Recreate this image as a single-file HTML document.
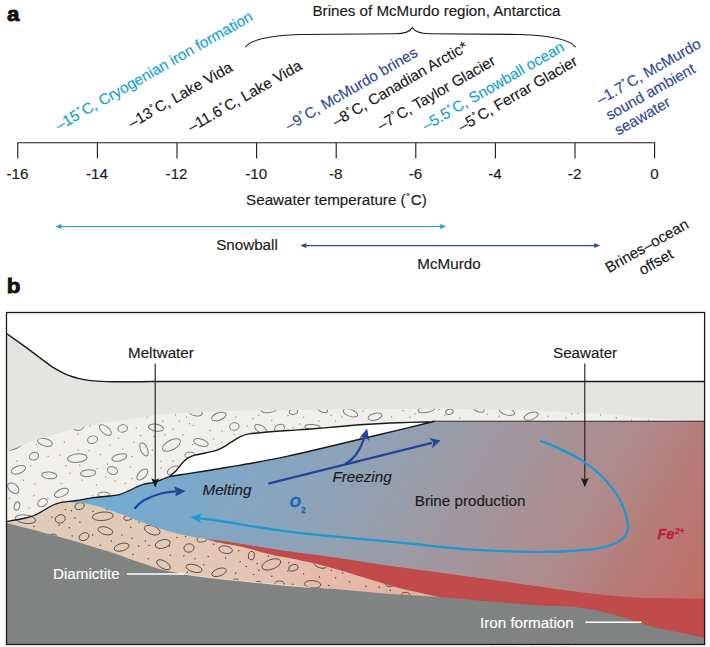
<!DOCTYPE html>
<html lang="en">
<head>
<meta charset="utf-8">
<title>Seawater temperature and brine production</title>
<style>
html,body{margin:0;padding:0;background:#fff;}
body{width:710px;height:647px;overflow:hidden;font-family:"Liberation Sans",sans-serif;}
svg{display:block;}
text{font-family:"Liberation Sans",sans-serif;}
.lbl{font-size:15.2px;fill:#1a1a1a;stroke:#1a1a1a;stroke-width:0.15px;}
.rot{font-size:15.2px;}
.cy{fill:#12a2d3;stroke:#12a2d3;}
.db{fill:#2f4a9a;stroke:#2f4a9a;}
.panel{font-weight:bold;font-size:19.6px;fill:#111;stroke:#111;stroke-width:0.8px;}
</style>
</head>
<body>
<svg width="710" height="647" viewBox="0 0 710 647">
<defs>
<linearGradient id="wg" gradientUnits="userSpaceOnUse" x1="110" y1="505" x2="581" y2="788">
<stop offset="0" stop-color="#71acd1"/>
<stop offset="0.195" stop-color="#83a6c3"/>
<stop offset="0.31" stop-color="#8ba3b9"/>
<stop offset="0.38" stop-color="#91a0b2"/>
<stop offset="0.49" stop-color="#9b9ba6"/>
<stop offset="0.627" stop-color="#a69399"/>
<stop offset="0.76" stop-color="#af8a8b"/>
<stop offset="0.884" stop-color="#b87a75"/>
<stop offset="1" stop-color="#c06f65"/>
</linearGradient>
<linearGradient id="bg" gradientUnits="userSpaceOnUse" x1="20" y1="0" x2="440" y2="0">
<stop offset="0" stop-color="#e0ccb8"/>
<stop offset="0.3" stop-color="#e1cab7"/>
<stop offset="0.52" stop-color="#e6c5b3"/>
<stop offset="0.75" stop-color="#e5baa9"/>
<stop offset="1" stop-color="#e1aea0"/>
</linearGradient>
<clipPath id="box"><rect x="6.5" y="312.5" width="698" height="332"/></clipPath>
<clipPath id="csed"><path d="M6.5,451.8 C11.1,449.9 23.8,444.2 34.0,440.6 C44.2,437.0 56.7,433.3 68.0,430.4 C79.3,427.5 93.3,424.6 102.0,423.0 C110.7,421.4 113.0,421.6 120.0,420.6 C127.0,419.6 134.3,418.2 144.0,417.0 C153.7,415.8 163.7,414.3 178.0,413.3 C192.3,412.3 211.3,411.4 230.0,410.9 C248.7,410.4 271.7,410.5 290.0,410.3 C308.3,410.1 321.7,409.8 340.0,409.6 C358.3,409.4 383.3,409.1 400.0,409.0 C416.7,408.9 421.7,408.5 440.0,408.7 C458.3,408.9 486.7,409.4 510.0,410.0 C533.3,410.6 560.0,411.6 580.0,412.6 C600.0,413.6 615.2,415.0 630.0,416.2 C644.8,417.4 658.9,418.8 668.6,419.6 C678.3,420.4 684.8,420.7 688.0,420.9 L688.0,421.2 L434.0,421.2 C433.7,421.6 438.0,421.6 432.0,421.8 C426.0,422.0 409.3,422.4 398.0,422.8 C386.7,423.2 373.7,423.9 364.0,424.5 C354.3,425.1 348.4,425.8 340.0,426.5 C331.6,427.2 322.2,428.1 313.5,428.8 C304.8,429.5 296.5,429.9 288.0,430.5 C279.5,431.1 269.0,431.9 262.5,432.5 C256.0,433.1 252.6,433.2 248.9,433.9 C245.2,434.6 243.5,435.2 240.4,436.7 C237.3,438.2 232.7,441.2 230.2,442.7 C227.7,444.2 227.8,444.7 225.6,445.9 C223.4,447.1 220.5,448.9 217.1,450.1 C213.7,451.3 208.9,452.1 205.2,453.0 C201.5,453.9 197.8,454.4 195.0,455.2 C192.2,456.0 190.2,456.7 188.2,457.8 C186.2,458.9 185.1,459.9 183.1,462.0 C181.1,464.1 178.6,468.1 176.3,470.5 C174.0,472.9 170.6,475.5 169.5,476.5 C168.7,476.8 167.0,477.5 164.4,478.5 C161.8,479.5 157.6,481.5 154.2,482.4 C150.8,483.3 147.1,483.2 144.0,484.1 C140.9,485.0 138.1,486.4 135.5,487.5 C132.9,488.6 131.2,489.8 128.7,490.9 C126.1,492.0 123.3,493.4 120.2,494.3 C117.1,495.2 114.5,495.4 110.0,496.0 C105.5,496.6 99.1,496.9 93.5,497.6 C87.9,498.4 81.6,499.7 76.5,500.5 C71.4,501.3 66.3,501.6 62.9,502.2 C59.5,502.8 58.4,503.1 56.1,503.9 C53.8,504.7 51.8,505.6 49.3,507.0 C46.8,508.4 43.3,510.7 40.8,512.1 C38.2,513.5 36.5,514.5 34.0,515.5 C31.4,516.5 30.1,517.0 25.5,518.0 C20.9,519.0 9.7,521.0 6.5,521.6Z"/></clipPath>
<clipPath id="cbeige"><path d="M6.5,521.6 C9.7,521.0 20.9,519.0 25.5,518.0 C30.1,517.0 31.4,516.5 34.0,515.5 C36.5,514.5 38.2,513.5 40.8,512.1 C43.3,510.7 46.8,508.4 49.3,507.0 C51.8,505.6 53.8,504.7 56.1,503.9 C58.4,503.1 59.6,502.4 62.9,502.2 C66.2,502.0 72.3,502.4 76.0,502.6 C79.7,502.8 81.5,503.0 85.0,503.6 C88.5,504.2 92.7,505.0 96.9,506.1 C101.2,507.2 105.5,508.7 110.5,510.4 C115.5,512.1 121.4,514.1 127.0,516.2 C132.6,518.3 138.3,520.9 144.0,523.0 C149.7,525.1 155.3,527.2 161.0,529.0 C166.7,530.8 172.3,532.4 178.0,533.8 C183.7,535.2 190.5,536.4 195.0,537.2 C199.5,538.1 201.2,538.0 205.2,538.9 C209.2,539.8 212.1,541.1 218.8,542.6 C225.5,544.1 236.8,545.7 245.5,547.7 C254.2,549.7 262.5,552.5 271.0,554.5 C279.5,556.5 288.0,557.8 296.5,559.6 C305.0,561.4 314.8,563.4 322.0,565.2 C329.2,567.0 333.0,568.2 340.0,570.3 C347.0,572.4 354.3,574.7 364.0,577.6 C373.7,580.5 386.7,584.8 398.0,587.8 C409.3,590.8 424.9,593.8 432.0,595.4 C439.1,597.0 439.1,597.1 440.5,597.5 L440.5,625 H6.5Z"/></clipPath>
</defs>
<rect width="710" height="647" fill="#fff"/>
<!-- ============ PANEL A ============ -->
<g id="panel-a">
<text class="panel" transform="translate(7.1,20.9) scale(1.14,1)">a</text>
<text class="lbl" x="436.5" y="16" text-anchor="middle" textLength="248" lengthAdjust="spacingAndGlyphs">Brines of McMurdo region, Antarctica</text>
<path d="M245.5,47.3 C249,40.5 270,35 300,34.5 L395,33.8 C405,33.7 410,31.5 412.3,27.6 C414.5,31.5 419.5,33.7 429.5,33.8 L520,34.5 C550,35 572,40.5 575.5,47.3" fill="none" stroke="#1a1a1a" stroke-width="1.1"/>
<g class="lbl rot">
<text class="cy" transform="translate(58.9,130.9) rotate(-29.7)">–15<tspan font-size="11.5" dy="-2.6" dx="0.6">˚</tspan><tspan dy="2.6" dx="0.6">C</tspan>, Cryogenian iron formation</text>
<text transform="translate(131.9,128.4) rotate(-29.7)">–13<tspan font-size="11.5" dy="-2.6" dx="0.6">˚</tspan><tspan dy="2.6" dx="0.6">C</tspan>, Lake Vida</text>
<text transform="translate(191.4,132.4) rotate(-29.7)">–11.6<tspan font-size="11.5" dy="-2.6" dx="0.6">˚</tspan><tspan dy="2.6" dx="0.6">C</tspan>, Lake Vida</text>
<text class="db" transform="translate(288.9,130.9) rotate(-30.1)">–9<tspan font-size="11.5" dy="-2.6" dx="0.6">˚</tspan><tspan dy="2.6" dx="0.6">C</tspan>, McMurdo brines</text>
<text transform="translate(335.9,126.9) rotate(-30.1)">–8<tspan font-size="11.5" dy="-2.6" dx="0.6">˚</tspan><tspan dy="2.6" dx="0.6">C</tspan>, Canadian Arctic*</text>
<text transform="translate(380.9,130.9) rotate(-30.1)">–7<tspan font-size="11.5" dy="-2.6" dx="0.6">˚</tspan><tspan dy="2.6" dx="0.6">C</tspan>, Taylor Glacier</text>
<text class="cy" transform="translate(425.9,130.9) rotate(-30.1)">–5.5<tspan font-size="11.5" dy="-2.6" dx="0.6">˚</tspan><tspan dy="2.6" dx="0.6">C</tspan>, Snowball ocean</text>
<text transform="translate(461.9,131.9) rotate(-30.1)">–5<tspan font-size="11.5" dy="-2.6" dx="0.6">˚</tspan><tspan dy="2.6" dx="0.6">C</tspan>, Ferrar Glacier</text>
<g class="db" text-anchor="middle">
<text transform="translate(651.1,76) rotate(-29.7)">–1.7<tspan font-size="11.5" dy="-2.6" dx="0.6">˚</tspan><tspan dy="2.6" dx="0.6">C</tspan>, McMurdo</text>
<text transform="translate(652.9,96.3) rotate(-29.2)">sound ambient</text>
<text transform="translate(644.9,120.6) rotate(-29.7)">seawater</text>
</g>
</g>
<path d="M17.75,158.5V142.7H654.6V158.5 M97.4,142.7V158.5 M177,142.7V158.5 M256.6,142.7V158.5 M336.2,142.7V158.5 M415.8,142.7V158.5 M495.4,142.7V158.5 M575,142.7V158.5" fill="none" stroke="#1a1a1a" stroke-width="1.1"/>
<g class="lbl" text-anchor="middle">
<text x="17.4" y="179">-16</text>
<text x="97" y="179">-14</text>
<text x="176.6" y="179">-12</text>
<text x="256.2" y="179">-10</text>
<text x="335.8" y="179">-8</text>
<text x="415.4" y="179">-6</text>
<text x="495" y="179">-4</text>
<text x="574.6" y="179">-2</text>
<text x="654.6" y="179">0</text>
<text x="336.4" y="204.5">Seawater temperature (<tspan font-size="11.5" dy="-2.6" dx="0.6">˚</tspan><tspan dy="2.6" dx="0.6">C</tspan>)</text>
<text x="247" y="250">Snowball</text>
<text x="449" y="269">McMurdo</text>
<text class="rot" transform="translate(649.4,250.2) rotate(-29.7)">Brines–ocean</text>
<text class="rot" transform="translate(658.4,266.4) rotate(-29.7)">offset</text>
</g>
<path d="M58,226.5H443" fill="none" stroke="#1aa3d4" stroke-width="1.1"/>
<path d="M55.3,226.5l6,-2.5v5z M446.2,226.5l-6,-2.5v5z" fill="#1aa3d4"/>
<path d="M303,245.6H597" fill="none" stroke="#2f4a9a" stroke-width="1.1"/>
<path d="M300.3,245.6l6,-2.5v5z M600.2,245.6l-6,-2.5v5z" fill="#2f4a9a"/>
</g>

<text class="panel" transform="translate(6.8,292.7) scale(1.14,1)">b</text>

<g id="panel-b" clip-path="url(#box)">
<rect x="6.5" y="312.5" width="698" height="332" fill="#fff"/>
<path id="ice" d="M6.5,333.5 L25.4,346.9 L50.7,365.9 C52.2,366.8 57.0,369.7 60.0,371.3 C63.0,372.9 65.8,374.2 68.5,375.3 C71.2,376.4 72.6,377.0 76.0,377.8 C79.4,378.6 83.6,379.8 88.7,380.4 C93.8,381.0 100.2,381.4 106.5,381.6 C112.8,381.8 119.2,381.8 126.8,381.8 C134.4,381.8 147.8,381.6 152.0,381.5 L704.6,381.5 V430 H430 L170,482 L6.5,530Z" fill="#e4e5e1"/>
<path id="water" d="M62.9,502.2 C65.2,501.9 71.4,501.3 76.5,500.5 C81.6,499.7 87.9,498.4 93.5,497.6 C99.1,496.9 105.5,496.6 110.0,496.0 C114.5,495.4 117.1,495.2 120.2,494.3 C123.3,493.4 126.1,492.0 128.7,490.9 C131.2,489.8 132.9,488.6 135.5,487.5 C138.1,486.4 140.9,485.0 144.0,484.1 C147.1,483.2 150.8,483.3 154.2,482.4 C157.6,481.5 161.8,479.5 164.4,478.5 C167.0,477.5 165.8,477.3 169.5,476.5 C173.2,475.7 180.6,474.8 186.5,473.9 C192.4,473.0 198.3,472.1 205.2,471.0 C212.0,469.9 219.5,468.7 227.6,467.3 C235.7,465.9 243.9,464.7 254.0,462.8 C264.1,460.9 278.1,458.2 288.0,456.1 C297.9,454.0 304.8,452.3 313.5,450.3 C322.2,448.3 328.8,446.7 340.0,444.0 C351.2,441.3 366.2,437.7 381.0,434.2 C395.8,430.7 419.8,424.9 428.6,422.8 C437.4,420.7 433.1,421.8 434.0,421.6 L704.6,421.2 V625 H280 L100,520 Z" fill="url(#wg)"/>
<path id="red" d="M205.2,538.9 C207.7,539.2 207.6,538.8 220.0,540.6 C232.4,542.5 260.3,547.2 279.5,550.0 C298.7,552.8 316.7,554.8 335.0,557.4 C353.3,560.0 370.3,563.0 389.5,565.7 C408.7,568.5 428.2,570.9 450.0,573.9 C471.8,576.9 501.7,581.1 520.0,583.7 C538.3,586.3 547.8,587.8 560.0,589.5 C572.2,591.2 581.5,592.5 593.4,593.8 C605.3,595.1 619.5,596.6 631.4,597.3 C643.3,598.0 652.8,598.0 665.0,598.2 C677.2,598.4 698.0,598.4 704.6,598.4 V644.6 H260 L205,545Z" fill="#c14a4b"/>
<path id="beige" d="M6.5,521.6 C9.7,521.0 20.9,519.0 25.5,518.0 C30.1,517.0 31.4,516.5 34.0,515.5 C36.5,514.5 38.2,513.5 40.8,512.1 C43.3,510.7 46.8,508.4 49.3,507.0 C51.8,505.6 53.8,504.7 56.1,503.9 C58.4,503.1 59.6,502.4 62.9,502.2 C66.2,502.0 72.3,502.4 76.0,502.6 C79.7,502.8 81.5,503.0 85.0,503.6 C88.5,504.2 92.7,505.0 96.9,506.1 C101.2,507.2 105.5,508.7 110.5,510.4 C115.5,512.1 121.4,514.1 127.0,516.2 C132.6,518.3 138.3,520.9 144.0,523.0 C149.7,525.1 155.3,527.2 161.0,529.0 C166.7,530.8 172.3,532.4 178.0,533.8 C183.7,535.2 190.5,536.4 195.0,537.2 C199.5,538.1 201.2,538.0 205.2,538.9 C209.2,539.8 212.1,541.1 218.8,542.6 C225.5,544.1 236.8,545.7 245.5,547.7 C254.2,549.7 262.5,552.5 271.0,554.5 C279.5,556.5 288.0,557.8 296.5,559.6 C305.0,561.4 314.8,563.4 322.0,565.2 C329.2,567.0 333.0,568.2 340.0,570.3 C347.0,572.4 354.3,574.7 364.0,577.6 C373.7,580.5 386.7,584.8 398.0,587.8 C409.3,590.8 424.9,593.8 432.0,595.4 C439.1,597.0 439.1,597.1 440.5,597.5 L440.5,625 H6.5Z" fill="url(#bg)"/>
<g clip-path="url(#cbeige)">
<g fill="none" stroke="#4a4745" stroke-width="0.85">
<ellipse cx="25.5" cy="519.2" rx="10.2" ry="4.2" transform="rotate(8 25.5 519.2)"/>
<ellipse cx="60.3" cy="518.9" rx="5.1" ry="4.1" transform="rotate(-20 60.3 518.9)"/>
<ellipse cx="79.6" cy="506.1" rx="4.8" ry="3.4" transform="rotate(-15 79.6 506.1)"/>
<ellipse cx="102.8" cy="516.3" rx="10.5" ry="4.2" transform="rotate(-5 102.8 516.3)"/>
<ellipse cx="105.4" cy="530.8" rx="7.6" ry="3.7" transform="rotate(15 105.4 530.8)"/>
<ellipse cx="84.1" cy="536.7" rx="5.1" ry="3.7" transform="rotate(-25 84.1 536.7)"/>
<ellipse cx="53.5" cy="535.6" rx="2.7" ry="1.7" transform="rotate(0 53.5 535.6)"/>
<ellipse cx="127.8" cy="517.9" rx="4.2" ry="2.5" transform="rotate(-10 127.8 517.9)"/>
<ellipse cx="152.2" cy="530.2" rx="8.2" ry="4.2" transform="rotate(20 152.2 530.2)"/>
<ellipse cx="121.6" cy="547.2" rx="7.6" ry="3.7" transform="rotate(-15 121.6 547.2)"/>
<ellipse cx="162.7" cy="544.0" rx="7.6" ry="4.2" transform="rotate(-15 162.7 544.0)"/>
<ellipse cx="189.0" cy="548.0" rx="5.1" ry="4.2" transform="rotate(-10 189.0 548.0)"/>
<ellipse cx="201.8" cy="539.5" rx="4.8" ry="2.5" transform="rotate(-5 201.8 539.5)"/>
<ellipse cx="225.6" cy="549.7" rx="6.8" ry="3.7" transform="rotate(10 225.6 549.7)"/>
<ellipse cx="163.5" cy="564.7" rx="7.6" ry="3.7" transform="rotate(30 163.5 564.7)"/>
<ellipse cx="194.1" cy="568.4" rx="8.2" ry="3.7" transform="rotate(15 194.1 568.4)"/>
<ellipse cx="219.1" cy="572.3" rx="7.6" ry="3.7" transform="rotate(-20 219.1 572.3)"/>
<ellipse cx="251.4" cy="555.6" rx="3.1" ry="4.2" transform="rotate(10 251.4 555.6)"/>
<ellipse cx="271.3" cy="564.4" rx="9.9" ry="4.8" transform="rotate(-20 271.3 564.4)"/>
<ellipse cx="293.4" cy="567.8" rx="4.8" ry="3.1" transform="rotate(-15 293.4 567.8)"/>
<ellipse cx="320.3" cy="564.1" rx="6.8" ry="3.7" transform="rotate(20 320.3 564.1)"/>
<ellipse cx="312.6" cy="584.3" rx="8.2" ry="3.7" transform="rotate(5 312.6 584.3)"/>
<ellipse cx="279.5" cy="584.1" rx="4.8" ry="3.1" transform="rotate(0 279.5 584.1)"/>
<ellipse cx="258.2" cy="583.4" rx="3.4" ry="2.0" transform="rotate(0 258.2 583.4)"/>
<ellipse cx="235.6" cy="580.7" rx="3.1" ry="1.7" transform="rotate(0 235.6 580.7)"/>
<ellipse cx="389.8" cy="584.1" rx="4.2" ry="2.4" transform="rotate(0 389.8 584.1)"/>
<ellipse cx="405.6" cy="595.3" rx="4.2" ry="2.9" transform="rotate(0 405.6 595.3)"/>
</g>
<g fill="#4a4644">
<circle cx="51.8" cy="517.2" r="0.75"/>
<circle cx="65.4" cy="509.5" r="0.75"/>
<circle cx="71.4" cy="510.7" r="0.75"/>
<circle cx="59.2" cy="525.2" r="0.75"/>
<circle cx="74.8" cy="518.0" r="0.75"/>
<circle cx="79.9" cy="522.3" r="0.75"/>
<circle cx="69.4" cy="527.7" r="0.75"/>
<circle cx="92.6" cy="535.0" r="0.75"/>
<circle cx="72.2" cy="535.9" r="0.75"/>
<circle cx="93.1" cy="511.2" r="0.75"/>
<circle cx="107.1" cy="509.5" r="0.75"/>
<circle cx="111.3" cy="541.0" r="0.75"/>
<circle cx="100.3" cy="545.2" r="0.75"/>
<circle cx="34.0" cy="526.5" r="0.75"/>
<circle cx="130.7" cy="527.3" r="0.75"/>
<circle cx="139.2" cy="522.2" r="0.75"/>
<circle cx="121.9" cy="534.9" r="0.75"/>
<circle cx="131.8" cy="538.3" r="0.75"/>
<circle cx="145.4" cy="540.9" r="0.75"/>
<circle cx="138.6" cy="546.0" r="0.75"/>
<circle cx="149.1" cy="545.5" r="0.75"/>
<circle cx="169.2" cy="546.0" r="0.75"/>
<circle cx="132.9" cy="554.5" r="0.75"/>
<circle cx="148.2" cy="558.7" r="0.75"/>
<circle cx="170.3" cy="555.3" r="0.75"/>
<circle cx="177.1" cy="537.5" r="0.75"/>
<circle cx="185.6" cy="536.6" r="0.75"/>
<circle cx="172.0" cy="531.2" r="0.75"/>
<circle cx="183.9" cy="555.9" r="0.75"/>
<circle cx="195.0" cy="558.7" r="0.75"/>
<circle cx="208.2" cy="556.5" r="0.75"/>
<circle cx="203.8" cy="564.7" r="0.75"/>
<circle cx="213.7" cy="544.3" r="0.75"/>
<circle cx="225.6" cy="557.9" r="0.75"/>
<circle cx="187.3" cy="572.3" r="0.75"/>
<circle cx="238.7" cy="550.8" r="0.75"/>
<circle cx="240.1" cy="561.8" r="0.75"/>
<circle cx="246.3" cy="566.4" r="0.75"/>
<circle cx="257.1" cy="563.5" r="0.75"/>
<circle cx="258.8" cy="570.3" r="0.75"/>
<circle cx="235.6" cy="573.2" r="0.75"/>
<circle cx="253.7" cy="574.6" r="0.75"/>
<circle cx="268.4" cy="556.2" r="0.75"/>
<circle cx="271.8" cy="576.3" r="0.75"/>
<circle cx="288.8" cy="562.7" r="0.75"/>
<circle cx="288.0" cy="571.2" r="0.75"/>
<circle cx="303.6" cy="573.7" r="0.75"/>
<circle cx="319.4" cy="577.1" r="0.75"/>
<circle cx="331.3" cy="570.3" r="0.75"/>
<circle cx="335.6" cy="577.7" r="0.75"/>
<circle cx="328.8" cy="585.6" r="0.75"/>
<circle cx="292.8" cy="584.3" r="0.75"/>
<circle cx="342.7" cy="573.0" r="0.75"/>
<circle cx="349.5" cy="581.8" r="0.75"/>
<circle cx="366.0" cy="586.4" r="0.75"/>
<circle cx="379.3" cy="587.3" r="0.75"/>
<circle cx="390.3" cy="590.3" r="0.75"/>
</g>
</g>
<path id="bedrock" d="M6.5,523.0 C11.1,524.2 23.8,527.3 34.0,530.0 C44.2,532.7 58.1,536.5 68.0,539.3 C77.9,542.1 86.5,544.9 93.5,547.0 C100.5,549.1 104.4,550.2 110.0,552.0 C115.6,553.8 121.3,555.9 127.0,557.9 C132.7,559.9 138.3,561.9 144.0,563.8 C149.7,565.7 154.2,567.8 161.0,569.5 C167.8,571.2 177.4,572.7 184.8,574.0 C192.2,575.3 199.3,576.3 205.2,577.1 C211.1,577.9 211.9,577.9 220.0,578.8 C228.1,579.6 242.7,581.1 254.0,582.2 C265.3,583.3 276.7,584.6 288.0,585.6 C299.3,586.6 313.3,587.6 322.0,588.2 C330.7,588.9 330.2,588.7 340.0,589.5 C349.8,590.3 368.5,592.2 381.0,593.2 C393.5,594.2 403.5,594.6 415.0,595.4 C426.5,596.2 432.5,596.6 450.0,598.0 C467.5,599.4 505.0,602.8 520.0,604.0 C535.0,605.2 532.0,605.0 540.0,605.4 C548.0,605.8 559.7,605.9 568.0,606.5 C576.3,607.1 583.7,608.2 590.0,609.2 C596.3,610.2 600.2,611.3 606.0,612.8 C611.8,614.3 618.7,616.1 625.0,618.0 C631.3,619.9 637.8,622.4 644.0,624.2 C650.2,626.0 655.7,627.5 662.0,629.0 C668.3,630.5 674.9,631.5 682.0,633.0 C689.1,634.5 700.8,637.2 704.6,638.0 V644.6 H6.5Z" fill="#808382"/>
<path d="M178,573 C190,575 198,576.2 205.2,577.1 L220,578.8 L254,582.2 L288,585.6 L310,587.4" fill="none" stroke="#f3ebe4" stroke-width="0.8"/>
<path id="sed" d="M6.5,451.8 C11.1,449.9 23.8,444.2 34.0,440.6 C44.2,437.0 56.7,433.3 68.0,430.4 C79.3,427.5 93.3,424.6 102.0,423.0 C110.7,421.4 113.0,421.6 120.0,420.6 C127.0,419.6 134.3,418.2 144.0,417.0 C153.7,415.8 163.7,414.3 178.0,413.3 C192.3,412.3 211.3,411.4 230.0,410.9 C248.7,410.4 271.7,410.5 290.0,410.3 C308.3,410.1 321.7,409.8 340.0,409.6 C358.3,409.4 383.3,409.1 400.0,409.0 C416.7,408.9 421.7,408.5 440.0,408.7 C458.3,408.9 486.7,409.4 510.0,410.0 C533.3,410.6 560.0,411.6 580.0,412.6 C600.0,413.6 615.2,415.0 630.0,416.2 C644.8,417.4 658.9,418.8 668.6,419.6 C678.3,420.4 684.8,420.7 688.0,420.9 L688.0,421.2 L434.0,421.2 C433.7,421.6 438.0,421.6 432.0,421.8 C426.0,422.0 409.3,422.4 398.0,422.8 C386.7,423.2 373.7,423.9 364.0,424.5 C354.3,425.1 348.4,425.8 340.0,426.5 C331.6,427.2 322.2,428.1 313.5,428.8 C304.8,429.5 296.5,429.9 288.0,430.5 C279.5,431.1 269.0,431.9 262.5,432.5 C256.0,433.1 252.6,433.2 248.9,433.9 C245.2,434.6 243.5,435.2 240.4,436.7 C237.3,438.2 232.7,441.2 230.2,442.7 C227.7,444.2 227.8,444.7 225.6,445.9 C223.4,447.1 220.5,448.9 217.1,450.1 C213.7,451.3 208.9,452.1 205.2,453.0 C201.5,453.9 197.8,454.4 195.0,455.2 C192.2,456.0 190.2,456.7 188.2,457.8 C186.2,458.9 185.1,459.9 183.1,462.0 C181.1,464.1 178.6,468.1 176.3,470.5 C174.0,472.9 170.6,475.5 169.5,476.5 C168.7,476.8 167.0,477.5 164.4,478.5 C161.8,479.5 157.6,481.5 154.2,482.4 C150.8,483.3 147.1,483.2 144.0,484.1 C140.9,485.0 138.1,486.4 135.5,487.5 C132.9,488.6 131.2,489.8 128.7,490.9 C126.1,492.0 123.3,493.4 120.2,494.3 C117.1,495.2 114.5,495.4 110.0,496.0 C105.5,496.6 99.1,496.9 93.5,497.6 C87.9,498.4 81.6,499.7 76.5,500.5 C71.4,501.3 66.3,501.6 62.9,502.2 C59.5,502.8 58.4,503.1 56.1,503.9 C53.8,504.7 51.8,505.6 49.3,507.0 C46.8,508.4 43.3,510.7 40.8,512.1 C38.2,513.5 36.5,514.5 34.0,515.5 C31.4,516.5 30.1,517.0 25.5,518.0 C20.9,519.0 9.7,521.0 6.5,521.6Z" fill="#f0efeb"/>
<g clip-path="url(#csed)">
<g fill="none" stroke="#7b7f7f" stroke-width="1">
<ellipse cx="45.0" cy="442.3" rx="7.6" ry="3.7" transform="rotate(15 45.0 442.3)"/>
<ellipse cx="34.0" cy="456.2" rx="4.8" ry="3.7" transform="rotate(-20 34.0 456.2)"/>
<ellipse cx="18.4" cy="469.8" rx="7.6" ry="3.7" transform="rotate(-20 18.4 469.8)"/>
<ellipse cx="49.3" cy="475.4" rx="7.6" ry="3.4" transform="rotate(5 49.3 475.4)"/>
<ellipse cx="13.3" cy="488.2" rx="6.5" ry="4.2" transform="rotate(40 13.3 488.2)"/>
<ellipse cx="61.5" cy="492.8" rx="7.6" ry="3.7" transform="rotate(-25 61.5 492.8)"/>
<ellipse cx="42.5" cy="502.6" rx="5.1" ry="3.7" transform="rotate(-30 42.5 502.6)"/>
<ellipse cx="17.0" cy="506.0" rx="2.7" ry="4.2" transform="rotate(15 17.0 506.0)"/>
<ellipse cx="77.3" cy="458.1" rx="9.9" ry="4.2" transform="rotate(-5 77.3 458.1)"/>
<ellipse cx="92.6" cy="439.7" rx="5.1" ry="3.7" transform="rotate(-15 92.6 439.7)"/>
<ellipse cx="105.4" cy="430.1" rx="7.1" ry="3.7" transform="rotate(40 105.4 430.1)"/>
<ellipse cx="88.1" cy="473.2" rx="7.6" ry="3.4" transform="rotate(-5 88.1 473.2)"/>
<ellipse cx="103.7" cy="494.5" rx="5.9" ry="2.4" transform="rotate(0 103.7 494.5)"/>
<ellipse cx="13.6" cy="441.4" rx="12.7" ry="7.6" transform="rotate(-25 13.6 441.4)"/>
<ellipse cx="78.5" cy="426.5" rx="5.4" ry="3.7" transform="rotate(-10 78.5 426.5)"/>
<ellipse cx="122.7" cy="428.4" rx="4.8" ry="3.7" transform="rotate(-10 122.7 428.4)"/>
<ellipse cx="155.9" cy="427.7" rx="7.6" ry="3.4" transform="rotate(10 155.9 427.7)"/>
<ellipse cx="218.8" cy="416.5" rx="7.6" ry="3.7" transform="rotate(-20 218.8 416.5)"/>
<ellipse cx="195.8" cy="412.7" rx="6.5" ry="3.1" transform="rotate(10 195.8 412.7)"/>
<ellipse cx="144.0" cy="449.3" rx="7.1" ry="3.4" transform="rotate(65 144.0 449.3)"/>
<ellipse cx="171.5" cy="445.0" rx="9.9" ry="4.8" transform="rotate(-28 171.5 445.0)"/>
<ellipse cx="200.9" cy="442.5" rx="7.6" ry="3.4" transform="rotate(18 200.9 442.5)"/>
<ellipse cx="119.3" cy="457.5" rx="7.6" ry="3.4" transform="rotate(-15 119.3 457.5)"/>
<ellipse cx="112.5" cy="470.5" rx="5.1" ry="3.7" transform="rotate(20 112.5 470.5)"/>
<ellipse cx="142.3" cy="474.5" rx="6.8" ry="3.7" transform="rotate(-45 142.3 474.5)"/>
<ellipse cx="173.7" cy="470.5" rx="6.8" ry="3.7" transform="rotate(-25 173.7 470.5)"/>
<ellipse cx="189.9" cy="455.2" rx="4.8" ry="3.1" transform="rotate(0 189.9 455.2)"/>
<ellipse cx="234.4" cy="426.5" rx="4.8" ry="3.7" transform="rotate(-10 234.4 426.5)"/>
<ellipse cx="260.8" cy="429.1" rx="6.8" ry="3.4" transform="rotate(30 260.8 429.1)"/>
<ellipse cx="279.5" cy="428.2" rx="5.1" ry="3.7" transform="rotate(-20 279.5 428.2)"/>
<ellipse cx="269.3" cy="409.5" rx="8.2" ry="3.1" transform="rotate(-8 269.3 409.5)"/>
<ellipse cx="293.4" cy="411.8" rx="4.2" ry="2.5" transform="rotate(-10 293.4 411.8)"/>
<ellipse cx="322.0" cy="409.0" rx="5.9" ry="2.7" transform="rotate(25 322.0 409.0)"/>
<ellipse cx="312.6" cy="427.1" rx="7.6" ry="2.5" transform="rotate(5 312.6 427.1)"/>
<ellipse cx="350.4" cy="412.9" rx="7.6" ry="3.4" transform="rotate(20 350.4 412.9)"/>
<ellipse cx="375.0" cy="416.7" rx="7.1" ry="3.4" transform="rotate(-15 375.0 416.7)"/>
<ellipse cx="426.9" cy="409.0" rx="8.8" ry="3.4" transform="rotate(-12 426.9 409.0)"/>
<ellipse cx="449.5" cy="411.8" rx="3.9" ry="2.6" transform="rotate(-15 449.5 411.8)"/>
<ellipse cx="478.5" cy="408.8" rx="5.9" ry="2.8" transform="rotate(20 478.5 408.8)"/>
<ellipse cx="507.0" cy="411.6" rx="7.9" ry="3.4" transform="rotate(15 507.0 411.6)"/>
<ellipse cx="531.1" cy="416.1" rx="7.5" ry="3.5" transform="rotate(-20 531.1 416.1)"/>
<ellipse cx="25.5" cy="519.2" rx="10.2" ry="4.2" transform="rotate(8 25.5 519.2)"/>
</g>
<g fill="#939593">
<circle cx="64.3" cy="442.0" r="0.75"/>
<circle cx="77.9" cy="434.1" r="0.75"/>
<circle cx="36.2" cy="444.5" r="0.75"/>
<circle cx="48.1" cy="456.2" r="0.75"/>
<circle cx="59.8" cy="455.0" r="0.75"/>
<circle cx="17.0" cy="461.0" r="0.75"/>
<circle cx="30.9" cy="465.8" r="0.75"/>
<circle cx="66.0" cy="465.8" r="0.75"/>
<circle cx="70.2" cy="473.2" r="0.75"/>
<circle cx="78.2" cy="450.3" r="0.75"/>
<circle cx="89.2" cy="450.8" r="0.75"/>
<circle cx="100.3" cy="454.5" r="0.75"/>
<circle cx="107.4" cy="464.1" r="0.75"/>
<circle cx="97.2" cy="468.6" r="0.75"/>
<circle cx="23.5" cy="480.2" r="0.75"/>
<circle cx="34.8" cy="484.3" r="0.75"/>
<circle cx="61.2" cy="483.4" r="0.75"/>
<circle cx="82.4" cy="480.0" r="0.75"/>
<circle cx="105.7" cy="477.1" r="0.75"/>
<circle cx="115.2" cy="481.1" r="0.75"/>
<circle cx="96.5" cy="484.8" r="0.75"/>
<circle cx="34.0" cy="495.8" r="0.75"/>
<circle cx="29.2" cy="507.7" r="0.75"/>
<circle cx="9.3" cy="498.4" r="0.75"/>
<circle cx="47.9" cy="498.4" r="0.75"/>
<circle cx="110.1" cy="445.2" r="0.75"/>
<circle cx="89.8" cy="426.1" r="0.75"/>
<circle cx="79.9" cy="465.2" r="0.75"/>
<circle cx="136.3" cy="428.0" r="0.75"/>
<circle cx="140.6" cy="435.4" r="0.75"/>
<circle cx="118.5" cy="438.2" r="0.75"/>
<circle cx="133.8" cy="442.2" r="0.75"/>
<circle cx="122.7" cy="449.3" r="0.75"/>
<circle cx="152.5" cy="450.1" r="0.75"/>
<circle cx="132.1" cy="456.6" r="0.75"/>
<circle cx="162.7" cy="421.2" r="0.75"/>
<circle cx="179.4" cy="421.2" r="0.75"/>
<circle cx="186.5" cy="417.0" r="0.75"/>
<circle cx="175.4" cy="415.0" r="0.75"/>
<circle cx="193.3" cy="425.5" r="0.75"/>
<circle cx="210.3" cy="430.6" r="0.75"/>
<circle cx="222.2" cy="430.9" r="0.75"/>
<circle cx="164.7" cy="434.8" r="0.75"/>
<circle cx="172.9" cy="429.2" r="0.75"/>
<circle cx="182.8" cy="434.8" r="0.75"/>
<circle cx="192.8" cy="444.5" r="0.75"/>
<circle cx="153.9" cy="436.5" r="0.75"/>
<circle cx="161.0" cy="461.2" r="0.75"/>
<circle cx="173.2" cy="460.9" r="0.75"/>
<circle cx="130.4" cy="467.1" r="0.75"/>
<circle cx="125.3" cy="483.6" r="0.75"/>
<circle cx="132.1" cy="478.5" r="0.75"/>
<circle cx="161.0" cy="468.0" r="0.75"/>
<circle cx="221.3" cy="442.2" r="0.75"/>
<circle cx="213.7" cy="439.1" r="0.75"/>
<circle cx="147.4" cy="417.0" r="0.75"/>
<circle cx="189.6" cy="423.8" r="0.75"/>
<circle cx="235.6" cy="416.9" r="0.75"/>
<circle cx="247.2" cy="426.0" r="0.75"/>
<circle cx="253.1" cy="418.6" r="0.75"/>
<circle cx="258.8" cy="415.2" r="0.75"/>
<circle cx="234.4" cy="434.5" r="0.75"/>
<circle cx="271.8" cy="420.6" r="0.75"/>
<circle cx="288.0" cy="415.5" r="0.75"/>
<circle cx="293.1" cy="427.7" r="0.75"/>
<circle cx="303.6" cy="417.2" r="0.75"/>
<circle cx="299.9" cy="424.0" r="0.75"/>
<circle cx="318.9" cy="421.1" r="0.75"/>
<circle cx="331.3" cy="415.5" r="0.75"/>
<circle cx="335.6" cy="421.1" r="0.75"/>
<circle cx="341.9" cy="416.9" r="0.75"/>
<circle cx="363.1" cy="411.2" r="0.75"/>
<circle cx="391.5" cy="416.9" r="0.75"/>
<circle cx="403.1" cy="410.4" r="0.75"/>
<circle cx="409.9" cy="417.2" r="0.75"/>
<circle cx="415.0" cy="413.8" r="0.75"/>
<circle cx="438.8" cy="409.5" r="0.75"/>
<circle cx="444.7" cy="415.5" r="0.75"/>
<circle cx="459.7" cy="418.1" r="0.75"/>
<circle cx="487.3" cy="414.3" r="0.75"/>
<circle cx="499.2" cy="416.3" r="0.75"/>
<circle cx="548.1" cy="416.3" r="0.75"/>
<circle cx="566.2" cy="418.1" r="0.75"/>
<circle cx="571.7" cy="413.7" r="0.75"/>
<circle cx="577.9" cy="413.3" r="0.75"/>
<circle cx="600.6" cy="415.1" r="0.75"/>
<circle cx="616.3" cy="417.7" r="0.75"/>
<circle cx="631.5" cy="420.2" r="0.75"/>
<circle cx="648.5" cy="420.2" r="0.75"/>
<circle cx="683.4" cy="420.0" r="0.75"/>
<circle cx="92.6" cy="495.9" r="0.75"/>
<circle cx="62.6" cy="501.0" r="0.75"/>
</g>
</g>
<path id="wedge" d="M169.5,476.5 C170.6,475.5 174.0,472.9 176.3,470.5 C178.6,468.1 181.1,464.1 183.1,462.0 C185.1,459.9 186.2,458.9 188.2,457.8 C190.2,456.7 192.2,456.0 195.0,455.2 C197.8,454.4 201.5,453.9 205.2,453.0 C208.9,452.1 213.7,451.3 217.1,450.1 C220.5,448.9 223.4,447.1 225.6,445.9 C227.8,444.7 227.7,444.2 230.2,442.7 C232.7,441.2 237.3,438.2 240.4,436.7 C243.5,435.2 245.2,434.6 248.9,433.9 C252.6,433.2 256.0,433.1 262.5,432.5 C269.0,431.9 279.5,431.1 288.0,430.5 C296.5,429.9 304.8,429.5 313.5,428.8 C322.2,428.1 331.6,427.2 340.0,426.5 C348.4,425.8 354.3,425.1 364.0,424.5 C373.7,423.9 386.7,423.2 398.0,422.8 C409.3,422.4 426.3,422.0 432.0,421.8 L434.0,421.6 C433.1,421.8 437.4,420.7 428.6,422.8 C419.8,424.9 395.8,430.7 381.0,434.2 C366.2,437.7 351.2,441.3 340.0,444.0 C328.8,446.7 322.2,448.3 313.5,450.3 C304.8,452.3 297.9,454.0 288.0,456.1 C278.1,458.2 264.1,460.9 254.0,462.8 C243.9,464.7 235.7,465.9 227.6,467.3 C219.5,468.7 212.0,469.9 205.2,471.0 C198.3,472.1 192.4,473.0 186.5,473.9 C180.6,474.8 172.3,476.1 169.5,476.5Z" fill="#fff" stroke="#1a1a1a" stroke-width="1.4" stroke-linejoin="round"/>
<path d="M6.5,521.6 C9.7,521.0 20.9,519.0 25.5,518.0 C30.1,517.0 31.4,516.5 34.0,515.5 C36.5,514.5 38.2,513.5 40.8,512.1 C43.3,510.7 46.8,508.4 49.3,507.0 C51.8,505.6 53.8,504.7 56.1,503.9 C58.4,503.1 59.5,502.8 62.9,502.2 C66.3,501.6 71.4,501.3 76.5,500.5 C81.6,499.7 87.9,498.4 93.5,497.6 C99.1,496.9 105.5,496.6 110.0,496.0 C114.5,495.4 117.1,495.2 120.2,494.3 C123.3,493.4 126.1,492.0 128.7,490.9 C131.2,489.8 132.9,488.6 135.5,487.5 C138.1,486.4 140.9,485.0 144.0,484.1 C147.1,483.2 150.8,483.3 154.2,482.4 C157.6,481.5 161.8,479.5 164.4,478.5 C167.0,477.5 168.7,476.8 169.5,476.5" fill="none" stroke="#1a1a1a" stroke-width="1.3"/>
<path d="M432,421.2 H704.6" fill="none" stroke="#2a2a2a" stroke-width="1.1"/>
<path d="M6.5,333.5 L25.4,346.9 L50.7,365.9 C52.2,366.8 57.0,369.7 60.0,371.3 C63.0,372.9 65.8,374.2 68.5,375.3 C71.2,376.4 72.6,377.0 76.0,377.8 C79.4,378.6 83.6,379.8 88.7,380.4 C93.8,381.0 100.2,381.4 106.5,381.6 C112.8,381.8 119.2,381.8 126.8,381.8 C134.4,381.8 147.8,381.6 152.0,381.5 L704.6,381.5" fill="none" stroke="#1a1a1a" stroke-width="1.4"/>
<!-- arrows -->
<g fill="none" stroke="#1a1a1a" stroke-width="1.1">
<path d="M155.2,363.5V481"/>
<path d="M584.8,363.5V481"/>
</g>
<path d="M155.2,487.6l-3.9,-9.4l3.9,1.9l3.9,-1.9z M584.8,487.2l-3.9,-9.4l3.9,1.9l3.9,-1.9z" fill="#1a1a1a"/>
<!-- cyan circulation -->
<path d="M540.2,440.7 C543.8,442.2 554.6,446.2 561.7,449.6 C568.8,453.0 576.3,456.8 582.6,460.9 C588.9,465.0 594.4,469.6 599.3,474.0 C604.2,478.4 608.1,482.9 611.8,487.6 C615.4,492.3 618.8,497.3 621.2,502.2 C623.6,507.1 625.2,512.6 626.4,516.8 C627.5,521.0 628.3,524.2 628.1,527.3 C627.9,530.4 627.1,533.2 625.4,535.6 C623.7,538.0 621.8,540.0 618.1,541.9 C614.5,543.8 609.4,545.7 603.5,547.1 C597.6,548.5 589.6,549.5 582.6,550.2 C575.6,550.9 568.7,551.2 561.7,551.5 C554.8,551.8 547.9,551.9 540.9,551.9 C533.9,551.9 532.2,552.0 520.0,551.6 C507.8,551.2 487.6,550.9 467.6,549.4 C447.6,547.9 422.9,544.9 400.0,542.7 C377.1,540.5 350.1,538.2 330.0,536.2 C309.9,534.2 297.8,532.9 279.5,530.4 C261.2,527.9 233.6,523.0 220.0,521.0 C206.4,519.0 201.7,518.7 198.0,518.2" fill="none" stroke="#1c98d2" stroke-width="2.3"/>
<path d="M190.2,517.1L201.8,513.4L199.2,518.6L200.9,523z" fill="#1c98d2"/>
<!-- dark blue arrows -->
<g fill="none" stroke="#24449a" stroke-width="2.3" stroke-linecap="butt">
<path d="M134.6,508.8 C138,504.5 141,502 144,500.3 C150,497 155,495 161,493.5 C166,492.3 170,491.7 176,491.3"/>
<path d="M268.3,483.6 L432,442.8"/>
<path d="M345.3,464 C351,460.5 354.5,457 357.2,452.9 C360,448.5 361.8,445 363.1,441 C364,438 364.6,436 365,434"/>
</g>
<path d="M185.8,490.9L173.5,486.2L176.4,491.2L175.2,496.6z M440.6,440.5L429.2,438L433.4,442.4L431.5,448.4z M367.1,428.6L359.2,438.3L364.6,436.4L369.2,441z" fill="#24449a"/>
<!-- text -->
<g class="lbl">
<text x="128" y="358">Meltwater</text>
<text x="553" y="358">Seawater</text>
<text x="202.5" y="495.3" font-style="italic">Melting</text>
<text x="332.5" y="482.1" font-style="italic">Freezing</text>
<text x="414.8" y="505.9">Brine production</text>
<text x="53" y="579" fill="#fff" stroke="#fff">Diamictite</text>
<text x="480" y="628" fill="#fff" stroke="#fff">Iron formation</text>
<text transform="translate(289.8,507.4) scale(0.9,1)" font-style="italic" font-weight="bold" fill="#176bb3" stroke="#176bb3" stroke-width="0.7" font-size="15.4">O</text>
<text x="300.9" y="512.6" font-weight="bold" fill="#176bb3" stroke="#176bb3" stroke-width="0.3" font-size="8.3">2</text>
<text transform="translate(657.4,538.6) scale(0.94,1)" font-style="italic" font-weight="bold" fill="#bc1d3c" stroke="#bc1d3c" stroke-width="0.3" font-size="15.4">Fe</text>
<text x="674.8" y="533.6" font-weight="bold" fill="#bc1d3c" stroke="#bc1d3c" stroke-width="0.2" font-size="8.6" font-style="italic">2+</text>
</g>
<path d="M127,574H184.3 M585.3,622.2H641.6" stroke="#fff" stroke-width="1.4" fill="none"/>
</g>
<rect x="6.5" y="312.5" width="698.1" height="332" fill="none" stroke="#1a1a1a" stroke-width="1.3"/>
<path d="M489,646.2H516 M529,646.2H552 M559,646.2H574" stroke="#e6e6e6" stroke-width="1.2" fill="none"/>

</svg>
</body>
</html>
